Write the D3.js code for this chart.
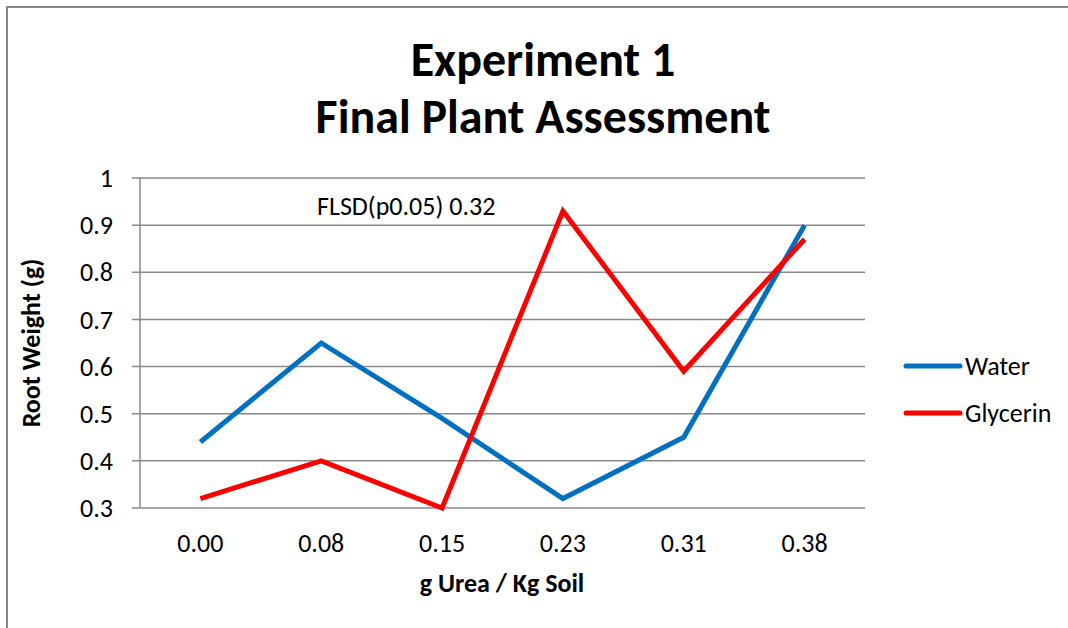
<!DOCTYPE html>
<html>
<head>
<meta charset="utf-8">
<script src="https://cdn.jsdelivr.net/npm/d3@7"></script>
<style>
  body { margin: 0; background: #fff; }
  text { font-family: Calibri, Carlito, Lato, sans-serif; }
</style>
</head>
<body>
<svg id="chart1"></svg>
<script>
var categories = ["0.00", "0.08", "0.15", "0.23", "0.31", "0.38"];
var water = [0.44, 0.65, 0.49, 0.32, 0.45, 0.90];
var glycerin = [0.32, 0.40, 0.30, 0.93, 0.59, 0.87];
var yTicks = [0.3, 0.4, 0.5, 0.6, 0.7, 0.8, 0.9, 1];
var seriesNames = ["Water", "Glycerin"];
var seriesColors = ["#0070c0", "#ff0000"];

var W = 1068, H = 628;
var margin = { top: 178, left: 140, bottom: 120, right: 203 };
var width = W - margin.left - margin.right;
var height = H - margin.top - margin.bottom;

var svg = d3.select('#chart1')
  .attr('width', W)
  .attr('height', H);

// chart border (runs off the right/bottom of the window)
svg.append('rect')
  .attr('x', 7).attr('y', 7)
  .attr('width', W + 20).attr('height', H + 20)
  .attr('fill', 'none')
  .attr('stroke', '#868686')
  .attr('stroke-width', 2);

var g = svg.append('g')
  .attr('transform', 'translate(' + margin.left + ',' + margin.top + ')');

var x = d3.scaleBand()
  .domain(categories)
  .range([0, width]);
var y = d3.scaleLinear()
  .domain([0.3, 1])
  .range([height, 0]);

// gridlines
g.selectAll('.grid')
  .data(yTicks)
  .enter()
  .append('line')
  .attr('x1', -8)
  .attr('x2', width)
  .attr('y1', function (d) { return y(d); })
  .attr('y2', function (d) { return y(d); })
  .attr('stroke', '#898989')
  .attr('stroke-width', 1.5);

// y axis line
g.append('line')
  .attr('x1', 0).attr('x2', 0)
  .attr('y1', 0).attr('y2', height)
  .attr('stroke', '#898989')
  .attr('stroke-width', 1.5);

// y tick labels
g.selectAll('.ylab')
  .data(yTicks)
  .enter()
  .append('text')
  .attr('x', -27)
  .attr('y', function (d) { return y(d); })
  .attr('dy', '0.35em')
  .attr('text-anchor', 'end')
  .attr('font-size', '26px')
  .attr('fill', '#000')
  .text(function (d) { return d === 1 ? '1' : d3.format('.1f')(d); });

// x tick labels
g.selectAll('.xlab')
  .data(categories)
  .enter()
  .append('text')
  .attr('x', function (d) { return x(d) + x.bandwidth() / 2; })
  .attr('y', height + 44)
  .attr('text-anchor', 'middle')
  .attr('font-size', '26px')
  .attr('fill', '#000')
  .text(function (d) { return d; });

var line = d3.line()
  .x(function (d, i) { return x(categories[i]) + x.bandwidth() / 2; })
  .y(function (d) { return y(d); });

[water, glycerin].forEach(function (vals, k) {
  g.append('path')
    .datum(vals)
    .attr('d', line)
    .attr('fill', 'none')
    .attr('stroke', seriesColors[k])
    .attr('stroke-width', 5)
    .attr('stroke-linejoin', 'miter');
});

// annotation
g.append('text')
  .attr('x', 177)
  .attr('y', 37)
  .attr('font-size', '26px')
  .attr('fill', '#000')
  .text('FLSD(p0.05) 0.32');

// legend
var legend = svg.append('g');
seriesNames.forEach(function (name, k) {
  var ly = 366 + k * 47;
  legend.append('line')
    .attr('x1', 906).attr('x2', 960)
    .attr('y1', ly).attr('y2', ly)
    .attr('stroke', seriesColors[k])
    .attr('stroke-width', 5)
    .attr('stroke-linecap', 'round');
  legend.append('text')
    .attr('x', 965)
    .attr('y', ly)
    .attr('dy', '0.35em')
    .attr('font-size', '26px')
    .attr('fill', '#000')
    .text(name);
});

// titles
svg.append('text')
  .attr('x', 543).attr('y', 76)
  .attr('text-anchor', 'middle')
  .attr('font-size', '48px')
  .attr('font-weight', 'bold')
  .text('Experiment 1');
svg.append('text')
  .attr('x', 543).attr('y', 133)
  .attr('text-anchor', 'middle')
  .attr('font-size', '48px')
  .attr('font-weight', 'bold')
  .text('Final Plant Assessment');

// axis titles
svg.append('text')
  .attr('x', 502).attr('y', 592)
  .attr('text-anchor', 'middle')
  .attr('font-size', '26px')
  .attr('font-weight', 'bold')
  .text('g Urea / Kg Soil');
svg.append('text')
  .attr('transform', 'translate(40,' + (margin.top + height / 2) + ') rotate(-90)')
  .attr('text-anchor', 'middle')
  .attr('font-size', '26px')
  .attr('font-weight', 'bold')
  .text('Root Weight (g)');
</script>
</body>
</html>
